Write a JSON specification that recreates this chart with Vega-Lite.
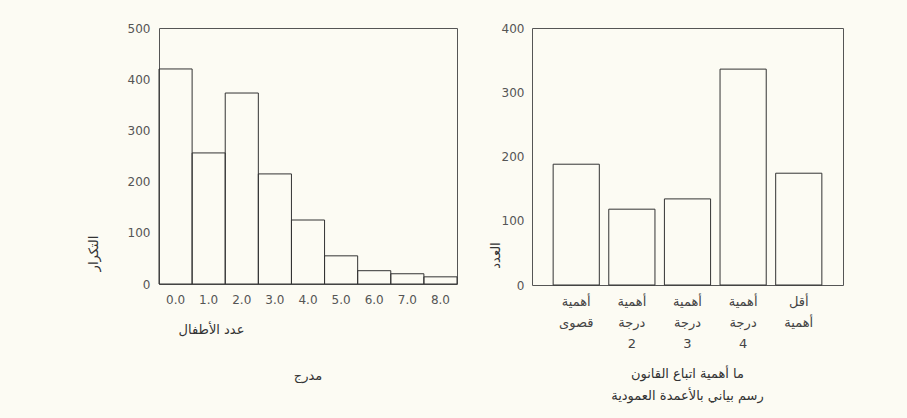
{
  "$schema": "https://vega.github.io/schema/vega-lite/v6.json",
  "background": "#fcfbf3",
  "padding": {"left": 86, "top": 21, "right": 64, "bottom": 16},
  "spacing": 30,
  "config": {
    "view": {"stroke": "#555555", "strokeWidth": 1},
    "axis": {"grid": false, "ticks": false, "domain": false, "labelFont": "DejaVu Sans", "titleFont": "DejaVu Sans", "labelColor": "#555555", "titleColor": "#333333", "titleFontWeight": "normal"},
    "title": {"font": "DejaVu Sans", "fontWeight": "normal", "color": "#333333", "fontSize": 13}
  },
  "hconcat": [
    {
      "width": 298,
      "height": 256,
      "title": {"text": "مدرج", "orient": "bottom", "anchor": "middle", "offset": 34},
      "data": {"values": [
        {"k": "0.0", "n": 420}, {"k": "1.0", "n": 256}, {"k": "2.0", "n": 373},
        {"k": "3.0", "n": 215}, {"k": "4.0", "n": 125}, {"k": "5.0", "n": 55},
        {"k": "6.0", "n": 26}, {"k": "7.0", "n": 20}, {"k": "8.0", "n": 14}
      ]},
      "mark": {"type": "bar", "fill": "transparent", "stroke": "#333333", "strokeWidth": 1},
      "encoding": {
        "x": {"field": "k", "type": "ordinal", "sort": null,
          "scale": {"paddingInner": 0, "paddingOuter": 0},
          "axis": {"labelAngle": 0, "labelFontSize": 12, "labelPadding": 10, "title": "عدد الأطفال", "titleFontSize": 13,
            "titleX": 52, "titleY": 45, "titleAlign": "center", "titleBaseline": "middle"}},
        "y": {"field": "n", "type": "quantitative",
          "scale": {"domain": [0, 500]},
          "axis": {"values": [0, 100, 200, 300, 400, 500], "labelFontSize": 12, "labelPadding": 9, "title": "التكرار", "titleFontSize": 13,
            "titleX": -66, "titleY": 225, "titleAlign": "center", "titleBaseline": "middle"}}
      }
    },
    {
      "width": 311,
      "height": 257,
      "data": {"values": [
        {"c": "أهمية|قصوى", "n": 188},
        {"c": "أهمية|درجة|2", "n": 118},
        {"c": "أهمية|درجة|3", "n": 134},
        {"c": "أهمية|درجة|4", "n": 336},
        {"c": "أقل|أهمية", "n": 174}
      ]},
      "mark": {"type": "bar", "fill": "transparent", "stroke": "#333333", "strokeWidth": 1},
      "encoding": {
        "x": {"field": "c", "type": "nominal", "sort": null,
          "scale": {"paddingInner": 0.17, "paddingOuter": 0.38},
          "axis": {"labelAngle": 0, "labelFontSize": 13, "labelPadding": 10, "labelColor": "#444444", "labelLineHeight": 21,
            "labelExpr": "split(datum.label, '|')",
            "title": ["ما أهمية اتباع القانون", "رسم بياني بالأعمدة العمودية"], "titleFontSize": 13, "titleLineHeight": 22,
            "titleX": 155, "titleY": 82, "titleAlign": "center", "titleBaseline": "top"}},
        "y": {"field": "n", "type": "quantitative",
          "scale": {"domain": [0, 400]},
          "axis": {"values": [0, 100, 200, 300, 400], "labelFontSize": 12, "labelPadding": 8, "title": "العدد", "titleFontSize": 13,
            "titleX": -37, "titleY": 227, "titleAlign": "center", "titleBaseline": "middle"}}
      }
    }
  ]
}
